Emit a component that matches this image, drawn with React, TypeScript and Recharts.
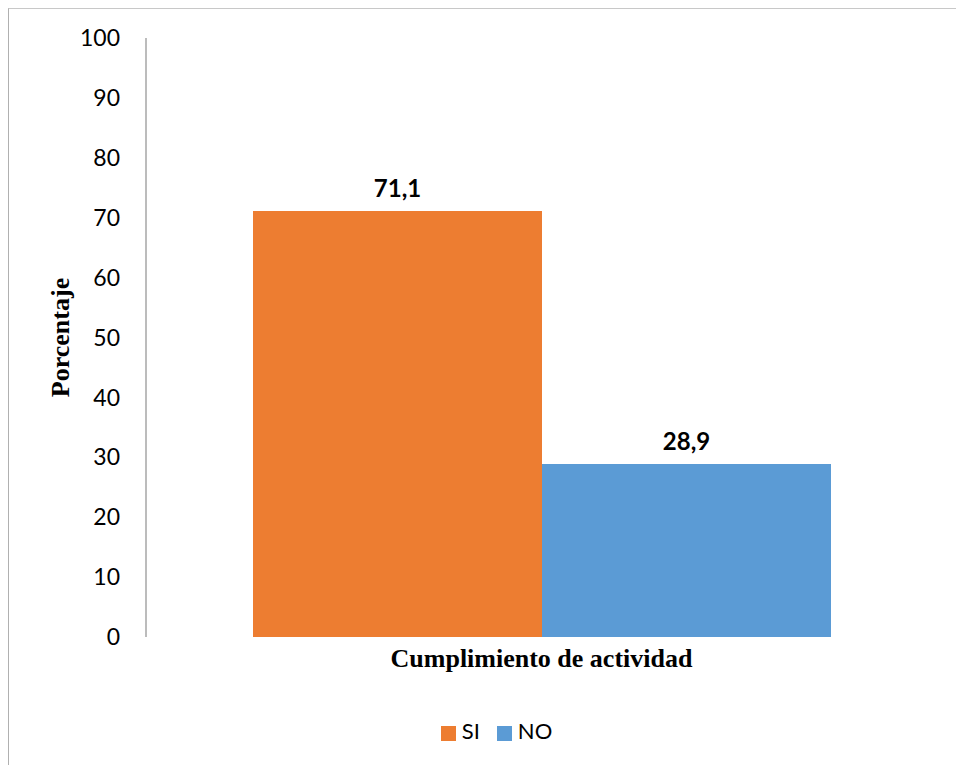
import React from "react";
import { BarChart, Bar, XAxis, YAxis, Legend, LabelList } from "recharts";

const CATEGORIES = ["Cumplimiento de actividad"];
const SI_VALUES = [71.1];
const NO_VALUES = [28.9];
const Y_TICKS = [0, 10, 20, 30, 40, 50, 60, 70, 80, 90, 100];
const SERIES_ORDER = ["SI", "NO"];

const DATA = CATEGORIES.map((name, i) => ({ name, SI: SI_VALUES[i], NO: NO_VALUES[i] }));

const SANS = "Lato, 'Open Sans', sans-serif";
const SERIF = "'Liberation Serif', 'DejaVu Serif', serif";

const fmt = (v: any) => String(v).replace(".", ",");

export default function App() {
    return (
        <div
            style={{
                position: "fixed",
                left: 8,
                top: 8,
                width: 948,
                height: 756,
                borderTop: "1px solid #c8c8c8",
                borderLeft: "1px solid #b0b0b0",
                background: "#fff",
                overflow: "hidden",
            }}
        >
            <BarChart
                width={947}
                height={755}
                data={DATA}
                barGap={0}
                barCategoryGap={107}
                margin={{ top: 29, right: 19, left: 0, bottom: 20 }}
            >
                <XAxis
                    dataKey="name"
                    tick={false}
                    axisLine={false}
                    tickLine={false}
                    height={80}
                    label={{
                        value: "Cumplimiento de actividad",
                        position: "insideTop",
                        offset: 12,
                        style: { fontFamily: SERIF, fontWeight: 700, fontSize: 26, fill: "#000" },
                    }}
                />
                <YAxis
                    width={137}
                    domain={[0, 100]}
                    ticks={Y_TICKS}
                    interval={0}
                    tickLine={false}
                    tickSize={0}
                    tickMargin={26}
                    axisLine={{ stroke: "#a6a6a6", strokeWidth: 1.5 }}
                    tick={{ fontFamily: SANS, fontSize: 23, fill: "#000" }}
                    label={{
                        value: "Porcentaje",
                        angle: -90,
                        position: "center",
                        dx: -18,
                        style: { fontFamily: SERIF, fontWeight: 700, fontSize: 26, fill: "#000", textAnchor: "middle" },
                    }}
                />
                <Legend
                    verticalAlign="bottom"
                    align="center"
                    iconType="square"
                    iconSize={15}
                    itemSorter={(item: any) => SERIES_ORDER.indexOf(String(item.dataKey))}
                    wrapperStyle={{ fontFamily: SANS, fontSize: 22, color: "#000", paddingLeft: 32 }}
                    formatter={(value: string) => (
                        <span style={{ color: "#000", marginLeft: 2, marginRight: 7 }}>{value}</span>
                    )}
                />
                <Bar dataKey="SI" fill="#ED7D31" isAnimationActive={false}>
                    <LabelList
                        dataKey="SI"
                        position="top"
                        offset={14}
                        formatter={fmt}
                        style={{ fontFamily: SANS, fontWeight: 700, fontSize: 24, fill: "#000" }}
                    />
                </Bar>
                <Bar dataKey="NO" fill="#5B9BD5" isAnimationActive={false}>
                    <LabelList
                        dataKey="NO"
                        position="top"
                        offset={14}
                        formatter={fmt}
                        style={{ fontFamily: SANS, fontWeight: 700, fontSize: 24, fill: "#000" }}
                    />
                </Bar>
            </BarChart>
        </div>
    );
}
